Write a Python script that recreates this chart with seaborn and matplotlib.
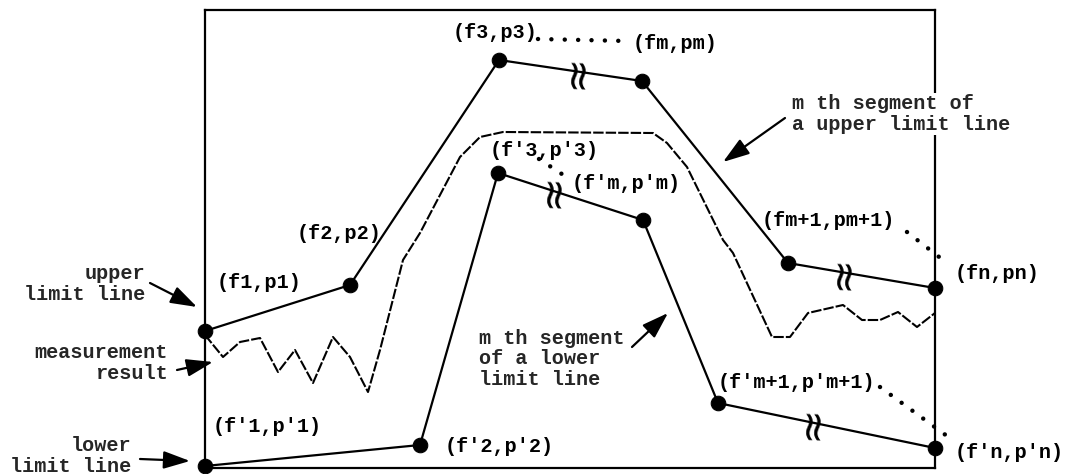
import numpy as np
import pandas as pd
import matplotlib
matplotlib.use('Agg')
import matplotlib.pyplot as plt
import seaborn as sns

# limit line break points (f = frequency, p = level, arbitrary units)
upper_f = [0, 145, 294, 437, 583, 730]
upper_p = [137, 183, 408, 387, 205, 180]
lower_f = [0, 215, 293, 438, 513, 730]
lower_p = [2, 23, 295, 248, 65, 20]

# measured trace
meas_f = [0, 18, 35, 55, 73, 90, 108, 128, 145, 163, 175, 198, 215, 255, 275,
          298, 448, 462, 482, 518, 528, 567, 585, 603, 638, 657, 675, 693, 712, 730]
meas_p = [133, 111, 126, 130, 96, 118, 85, 131, 111, 76, 118, 208, 235, 311, 331,
          336, 335, 325, 301, 228, 215, 131, 131, 155, 163, 148, 148, 156, 141, 155]

# "≈" break marks on the omitted segments
upper_breaks = [372, 638]
lower_breaks = [348, 607]

point_labels = ["(f1,p1)", "(f2,p2)", "(f3,p3)", "(fm,pm)", "(fm+1,pm+1)", "(fn,pn)",
                "(f'1,p'1)", "(f'2,p'2)", "(f'3,p'3)", "(f'm,p'm)", "(f'm+1,p'm+1)", "(f'n,p'n)"]
label_x = [12, 92, 248, 428, 557, 750, 8, 240, 285, 367, 513, 750]
label_y = [185, 235, 436, 425, 248, 195, 41, 21, 318, 285, 86, 15]

# dotted leaders between labels
leaders = [([333, 422], [429, 427]), ([334, 366], [309, 288]),
           ([702, 738], [236, 208]), ([675, 742], [81, 32])]

sns.set_theme(style="white")
plt.rcParams['font.family'] = ['Liberation Mono', 'DejaVu Sans']

fig = plt.figure(figsize=(10.68, 4.74), dpi=100)
ax = fig.add_axes([205 / 1068, 6 / 474, 730 / 1068, 458 / 474])

up = pd.DataFrame({'f': upper_f, 'p': upper_p})
lo = pd.DataFrame({'f': lower_f, 'p': lower_p})
ms = pd.DataFrame({'f': meas_f, 'p': meas_p})

sns.lineplot(data=ms, x='f', y='p', ax=ax, color='black', lw=1.5, sort=False,
             linestyle=(0, (5, 1)))
for d in (up, lo):
    sns.lineplot(data=d, x='f', y='p', ax=ax, color='black', lw=1.6, sort=False,
                 marker='o', markersize=10.5, markeredgecolor='black', clip_on=False)

ax.set_xlim(0, 730)
ax.set_ylim(0, 458)
ax.set_xticks([])
ax.set_yticks([])
ax.set_xlabel('')
ax.set_ylabel('')
for s in ax.spines.values():
    s.set_color('black')
    s.set_linewidth(1.6)

fs = 14.5
fw = 'bold'

for t, x, y in zip(point_labels, label_x, label_y):
    ax.text(x, y, t, ha='left', va='center', fontsize=fs, fontweight=fw, color='black')

for lx, ly in leaders:
    ax.plot(lx, ly, color='black', lw=3.2, linestyle=(0, (0.01, 3.0)),
            dash_capstyle='round', clip_on=False)

for fb in upper_breaks:
    ax.text(fb, np.interp(fb, upper_f, upper_p), '≈', rotation=88, ha='center', va='center',
            fontsize=30, family='DejaVu Sans', color='black')
for fb in lower_breaks:
    ax.text(fb, np.interp(fb, lower_f, lower_p), '≈', rotation=88, ha='center', va='center',
            fontsize=30, family='DejaVu Sans', color='black')

# callouts
ax.text(-60, 184, "upper\nlimit line", ha='right', va='center', fontsize=fs,
        fontweight=fw, linespacing=1.1)
ax.text(-37, 105, "measurement\nresult", ha='right', va='center', fontsize=fs,
        fontweight=fw, linespacing=1.1)
ax.text(-74, 12, "lower\nlimit line", ha='right', va='center', fontsize=fs,
        fontweight=fw, linespacing=1.1)
ax.text(587, 354, "m th segment of\na upper limit line", ha='left', va='center',
        fontsize=fs, fontweight=fw, linespacing=1.1,
        bbox=dict(facecolor='white', edgecolor='none', pad=1))
ax.text(274, 109, "m th segment\nof a lower\nlimit line", ha='left', va='center',
        fontsize=fs, fontweight=fw, linespacing=1.1)

arrows = [((-55, 185), (-8, 161)), ((-28, 98), (8, 106)), ((-65, 9), (-15, 7)),
          ((580, 350), (518, 306)), ((427, 121), (463, 155))]
for tail, head in arrows:
    ax.annotate('', xy=head, xytext=tail, annotation_clip=False,
                arrowprops=dict(arrowstyle='-|>,head_length=0.9,head_width=0.3',
                                color='black', lw=1.6, shrinkA=0, shrinkB=0,
                                mutation_scale=18))

fig.savefig('out.png', dpi=100)
